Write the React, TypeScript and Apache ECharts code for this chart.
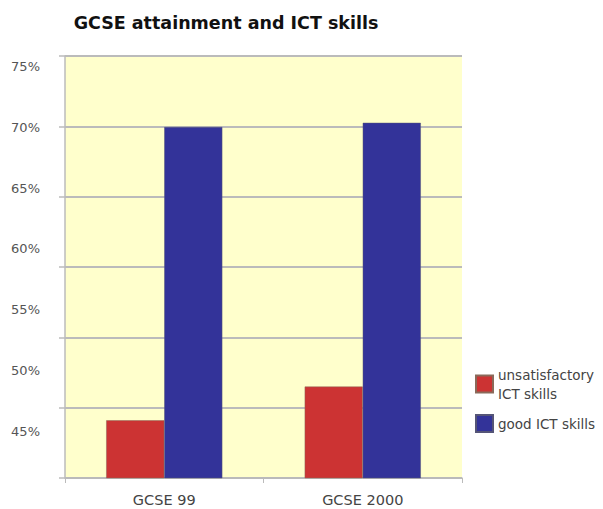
import React, { useEffect, useRef } from "react";
import * as echarts from "echarts";

const categories = ["GCSE 99", "GCSE 2000"];
const unsatisfactory = [49.1, 51.5];
const goodSkills = [69.95, 70.25];
const yTickValues = [45, 50, 55, 60, 65, 70, 75];
const seriesNames = ["unsatisfactory\nICT skills", "good ICT skills"];
const titleText = "GCSE attainment and ICT skills";

export default function App() {
  const ref = useRef<HTMLDivElement>(null);
  useEffect(() => {
    const chart = echarts.init(ref.current!, null, { renderer: "svg" });
    const font = "'DejaVu Sans', Verdana, sans-serif";
    chart.setOption({
      animation: false,
      backgroundColor: "#ffffff",
      title: {
        text: titleText,
        left: 221,
        textAlign: "center",
        top: 9,
        textStyle: { fontFamily: font, fontWeight: "bold", fontSize: 17.5, color: "#111" },
      },
      legend: {
        orient: "vertical",
        left: 470,
        top: 360,
        itemWidth: 17,
        itemHeight: 17,
        itemGap: 11,
        icon: "rect",
        textStyle: { fontFamily: font, fontSize: 13.5, color: "#444", lineHeight: 19 },
        data: seriesNames,
      },
      grid: {
        left: 65,
        top: 56,
        right: 141,
        bottom: 31,
        show: true,
        backgroundColor: "#FFFFCC",
        borderWidth: 0,
        containLabel: false,
        outerBoundsMode: "none",
      },
      xAxis: {
        type: "category",
        data: categories,
        axisLine: { lineStyle: { color: "#bbbbbb", width: 1.5 } },
        axisTick: { show: true, alignWithLabel: false, length: 5, lineStyle: { color: "#bbbbbb" } },
        axisLabel: { fontFamily: font, fontSize: 14.5, color: "#444", margin: 14 },
      },
      yAxis: [
        {
          type: "value",
          min: 45,
          max: 75,
          interval: 5,
          axisLine: { show: true, lineStyle: { color: "#bbbbbb", width: 1.5 } },
          axisTick: { show: true, length: 6, lineStyle: { color: "#bbbbbb", width: 1.5 } },
          splitLine: { show: true, lineStyle: { color: "#bbbbbb", width: 2 } },
          axisLabel: { show: false },
        },
        {
          type: "value",
          position: "left",
          min: 41.13,
          max: 75.9,
          axisLine: { show: false },
          axisTick: { show: false },
          splitLine: { show: false },
          axisLabel: {
            customValues: yTickValues,
            formatter: (v: number) => v + "%",
            fontFamily: font,
            fontSize: 13,
            color: "#555",
            margin: 25,
          },
        },
      ],
      series: [
        {
          name: seriesNames[0],
          type: "bar",
          data: unsatisfactory,
          barGap: "0%",
          barCategoryGap: "41.5%",
          itemStyle: { color: "#CC3333", borderColor: "#8a6a5a", borderWidth: 0.5 },
        },
        {
          name: seriesNames[1],
          type: "bar",
          data: goodSkills,
          itemStyle: { color: "#333399", borderColor: "#555577", borderWidth: 0.5 },
        },
      ],
    });
    return () => chart.dispose();
  }, []);
  return (
    <div
      ref={ref}
      style={{ position: "fixed", left: 0, top: 0, width: 603, height: 509 }}
    />
  );
}
